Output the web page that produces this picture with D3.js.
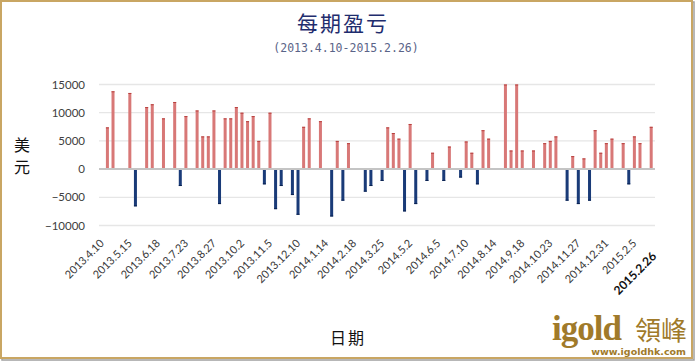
<!DOCTYPE html>
<html>
<head>
<meta charset="utf-8">
<script src="https://cdn.jsdelivr.net/npm/d3@7"></script>
<style>
  body { margin: 0; background: #fff; }
  svg { display: block; }
</style>
</head>
<body>
<svg id="chart" width="695" height="362"></svg>
<script>
// weekly profit/loss (USD), one value per period, 0 = no bar
var values = [
    0, 7400, 13800, 0, 0, 13500, -6600, 0, 11000, 11500,
    0, 9000, 0, 11900, -3000, 9400, 0, 10400, 5800, 5800,
    10400, -6200, 9000, 9000, 11000, 10000, 8500, 9400, 5000, -2700,
    10000, -7100, -3000, 0, -4600, -8100, 7500, 9000, 0, 8500,
    0, -8400, 5000, -5600, 4600, 0, 0, -4000, -3000, 0,
    -2100, 7400, 6400, 5400, -7500, 8000, -6200, 0, -2100, 2900,
    0, -2100, 4000, 0, -1500, 4900, 2900, -2700, 6900, 5400,
    0, 0, 15000, 3300, 15000, 3300, 0, 3300, 0, 4600,
    5000, 5800, 0, -5600, 2300, -6200, 1900, -5600, 6900, 2900,
    4600, 5400, 0, 4600, -2700, 5800, 4600, 0, 7500
];
// every 5th period is labelled
var tickLabels = [
    "2013.4.10", "2013.5.15", "2013.6.18", "2013.7.23", "2013.8.27",
    "2013.10.2", "2013.11.5", "2013.12.10", "2014.1.14", "2014.2.18",
    "2014.3.25", "2014.5.2", "2014.6.5", "2014.7.10", "2014.8.14",
    "2014.9.18", "2014.10.23", "2014.11.27", "2014.12.31", "2015.2.5"
];
var lastLabel = "2015.2.26";
var yTicks = [-10000, -5000, 0, 5000, 10000, 15000];

var svg = d3.select("#chart");

// frame
svg.append("rect").attr("x", 2).attr("y", 2).attr("width", 692).attr("height", 358)
    .attr("fill", "none").attr("stroke", "#a0a0a0").attr("stroke-width", 1.5);
svg.append("rect").attr("x", 1).attr("y", 1).attr("width", 691).attr("height", 357)
    .attr("fill", "#fff").attr("stroke", "#c9a663").attr("stroke-width", 2);

var x = d3.scaleBand()
    .domain(d3.range(values.length))
    .range([99, 654]);

var y = d3.scaleLinear()
    .domain([-10000, 15000])
    .range([225.5, 84.5]);

// grid
svg.append("g").selectAll("line")
    .data(yTicks.filter(function(d){ return d !== 0; }))
    .enter().append("line")
    .attr("x1", 99).attr("x2", 655)
    .attr("y1", function(d){ return y(d); })
    .attr("y2", function(d){ return y(d); })
    .attr("stroke", "#e6e6e6").attr("stroke-width", 1.3);

var yAxis = d3.axisLeft(y).tickValues(yTicks).tickSize(0).tickPadding(14)
    .tickFormat(d3.format("d"));
svg.append("g")
    .attr("transform", "translate(99,0)")
    .call(yAxis)
    .call(function(g){ g.select(".domain").remove(); })
    .selectAll("text")
    .attr("font-family", "Lato, sans-serif")
    .attr("font-size", 11.5)
    .attr("fill", "#404040");

// bars
var bw = 3;
var bars = svg.append("g");
values.forEach(function(v, i){
    if (v === 0) return;
    var cx = x(i) + x.bandwidth() / 2;
    var top = v > 0 ? y(v) : y(0);
    var h = Math.abs(y(v) - y(0));
    bars.append("rect")
        .attr("x", cx - bw / 2).attr("y", top)
        .attr("width", bw).attr("height", h)
        .attr("fill", v > 0 ? "#d87877" : "#1a3b78");
    bars.append("rect")
        .attr("x", cx - bw / 2).attr("y", v > 0 ? top : top + h - 1)
        .attr("width", bw).attr("height", 1)
        .attr("fill", v > 0 ? "#b8403e" : "#0a2250");
});

// zero line
svg.append("line")
    .attr("x1", 99).attr("x2", 655)
    .attr("y1", y(0)).attr("y2", y(0))
    .attr("stroke", "#c4c4c4").attr("stroke-width", 2);

// x axis labels
var xAxis = d3.axisBottom(x)
    .tickValues(d3.range(0, tickLabels.length * 5, 5))
    .tickFormat(function(d){ return tickLabels[d / 5]; })
    .tickSize(0);
var gx = svg.append("g")
    .attr("transform", "translate(0,236)")
    .call(xAxis)
    .call(function(g){ g.select(".domain").remove(); });
gx.selectAll("text")
    .attr("font-family", "Lato, sans-serif")
    .attr("font-size", 11)
    .attr("fill", "#383838")
    .attr("text-anchor", "end")
    .attr("dy", 0)
    .attr("y", 0)
    .attr("transform", "translate(3,8) rotate(-45)");

svg.append("text")
    .attr("transform", "translate(" + (x(values.length - 1) + x.bandwidth() / 2 + 6) + ",257) rotate(-45)")
    .attr("text-anchor", "end")
    .attr("font-family", "Lato, sans-serif")
    .attr("font-weight", "bold")
    .attr("font-size", 12)
    .attr("fill", "#111")
    .text(lastLabel);

// titles
svg.append("text").attr("x", 343).attr("y", 31)
    .attr("text-anchor", "middle")
    .attr("font-family", "'Noto Sans CJK SC', sans-serif")
    .attr("font-size", 21).attr("fill", "#1f2d6e")
    .attr("letter-spacing", 2)
    .text("每期盈亏");
svg.append("text").attr("x", 346).attr("y", 52)
    .attr("text-anchor", "middle")
    .attr("font-family", "'DejaVu Sans Mono', monospace")
    .attr("font-size", 11.5).attr("fill", "#5a6488")
    .text("(2013.4.10-2015.2.26)");

// axis titles
svg.append("text").attr("x", 22).attr("y", 151)
    .attr("text-anchor", "middle")
    .attr("font-family", "'Noto Sans CJK SC', sans-serif")
    .attr("font-size", 16).attr("fill", "#111")
    .text("美");
svg.append("text").attr("x", 22).attr("y", 173)
    .attr("text-anchor", "middle")
    .attr("font-family", "'Noto Sans CJK SC', sans-serif")
    .attr("font-size", 16).attr("fill", "#111")
    .text("元");
svg.append("text").attr("x", 348).attr("y", 344)
    .attr("text-anchor", "middle")
    .attr("font-family", "'Noto Sans CJK SC', sans-serif")
    .attr("font-size", 16).attr("fill", "#111")
    .attr("letter-spacing", 2)
    .text("日期");

// logo
svg.append("text").attr("x", 552).attr("y", 340)
    .attr("font-family", "'Liberation Serif', serif")
    .attr("font-weight", "bold")
    .attr("font-size", 35).attr("fill", "#a07a2a")
    .attr("letter-spacing", -1)
    .text("igold");
svg.append("text").attr("x", 635).attr("y", 340)
    .attr("font-family", "'Noto Sans CJK TC', sans-serif")
    .attr("font-size", 26).attr("fill", "#a07a2a")
    .text("領峰");
svg.append("text").attr("x", 686).attr("y", 355)
    .attr("text-anchor", "end")
    .attr("font-family", "'DejaVu Sans', sans-serif")
    .attr("font-weight", "bold")
    .attr("font-size", 9.5).attr("fill", "#a07a2a")
    .text("www.igoldhk.com");
</script>
</body>
</html>
